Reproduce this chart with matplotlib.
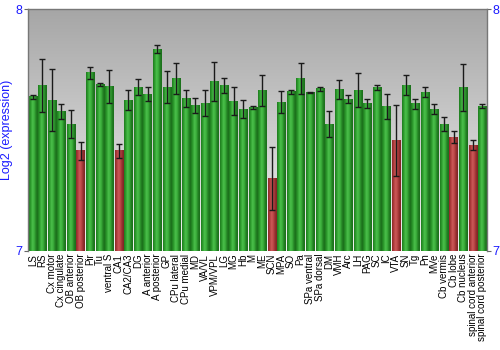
import numpy as np
import matplotlib
matplotlib.use("Agg")
import matplotlib.pyplot as plt
from matplotlib.colors import LinearSegmentedColormap

plt.rcParams['font.family'] = ['Liberation Sans', 'DejaVu Sans']

# regiões e expressão média (log2) com desvio
regioes = ["LS", "RS", "Cx motor", "Cx cingulate", "OB anterior", "OB posterior",
           "Pir", "Tu", "ventral S", "CA1", "CA2/CA3", "DG", "A anterior",
           "A posterior", "GP", "CPu lateral", "CPu medial", "MD", "VA/VL",
           "VPM/VPL", "LG", "MG", "Hb", "M", "ME", "SCN", "MPA", "SO", "Pa",
           "SPa ventral", "SPa dorsal", "DM", "VMH", "Arc", "LH", "PAG", "SC",
           "IC", "VTA", "SN", "Tg", "Pn", "MVe", "Cb vermis", "Cb lobe",
           "Cb nucleus", "spinal cord anterior", "spinal cord posterior"]
expressao = [7.638, 7.685, 7.624, 7.577, 7.523, 7.414, 7.736, 7.689, 7.680,
             7.414, 7.623, 7.677, 7.649, 7.834, 7.678, 7.713, 7.630, 7.602,
             7.610, 7.700, 7.684, 7.620, 7.586, 7.593, 7.662, 7.301, 7.616,
             7.659, 7.713, 7.655, 7.671, 7.525, 7.667, 7.628, 7.664, 7.609,
             7.675, 7.598, 7.457, 7.686, 7.608, 7.656, 7.587, 7.523, 7.471,
             7.674, 7.438, 7.599]
desvio = [0.008, 0.110, 0.128, 0.030, 0.058, 0.036, 0.023, 0.007, 0.068,
          0.029, 0.041, 0.032, 0.030, 0.017, 0.065, 0.065, 0.035, 0.031,
          0.054, 0.082, 0.031, 0.059, 0.037, 0.008, 0.064, 0.130, 0.047,
          0.008, 0.063, 0.003, 0.008, 0.052, 0.040, 0.016, 0.070, 0.019,
          0.010, 0.051, 0.147, 0.040, 0.022, 0.021, 0.019, 0.029, 0.026,
          0.097, 0.019, 0.009]
baixas = ["OB posterior", "CA1", "SCN", "VTA", "Cb lobe", "spinal cord anterior"]

ymin, ymax = 7, 8
largura = 0.86

verde = LinearSegmentedColormap.from_list(
    "verde", ["#1e7a1e", "#2f9e2f", "#4cc04c", "#3aae3a", "#237f23", "#1a6e1a"])
vermelho = LinearSegmentedColormap.from_list(
    "vermelho", ["#8a2a2a", "#b03c3c", "#cc5a5a", "#bb4646", "#942f2f", "#7e2424"])
fundo = LinearSegmentedColormap.from_list("fundo", ["#f2f2f2", "#a6a6a6"])

fig = plt.figure(figsize=(5, 3.5), dpi=100)
ax = fig.add_axes([0.056, 0.283, 0.918, 0.691])

n = len(regioes)
x = np.arange(n)
ax.set_xlim(-0.5, n - 0.5)
ax.set_ylim(ymin, ymax)

# fundo em degradê vertical
ax.imshow(np.linspace(0, 1, 256).reshape(-1, 1), cmap=fundo, aspect="auto",
          extent=[-0.5, n - 0.5, ymax, ymin], origin="upper", zorder=0)

# barras com sombreamento cilíndrico
grad = np.linspace(0, 1, 64).reshape(1, -1)
for i, (r, v) in enumerate(zip(regioes, expressao)):
    cmap = vermelho if r in baixas else verde
    ax.imshow(grad, cmap=cmap, aspect="auto", interpolation="bilinear",
              extent=[i - largura / 2, i + largura / 2, ymin, v], zorder=1)

ax.errorbar(x, expressao, yerr=desvio, fmt="none", ecolor="#1a1a1a",
            elinewidth=1, capsize=2, capthick=1, zorder=3)

ax.set_xticks(x)
ax.set_xticklabels(regioes, rotation=90, fontsize=7)
ax.tick_params(axis="x", length=0, pad=2)

ax.set_yticks([7, 8])
ax.set_yticklabels(["7", "8"])
ax.tick_params(axis="y", colors="#666666", labelcolor="#1a1aff", labelsize=9,
               length=3, pad=1, right=True, labelright=True)
ax.set_ylabel("Log2 (expression)", color="#1a1aff", fontsize=9, labelpad=2)

for lado in ["top", "left", "right"]:
    ax.spines[lado].set_color("#777777")
    ax.spines[lado].set_linewidth(1)
ax.spines["bottom"].set_visible(False)

fig.savefig("out.png", dpi=100)
